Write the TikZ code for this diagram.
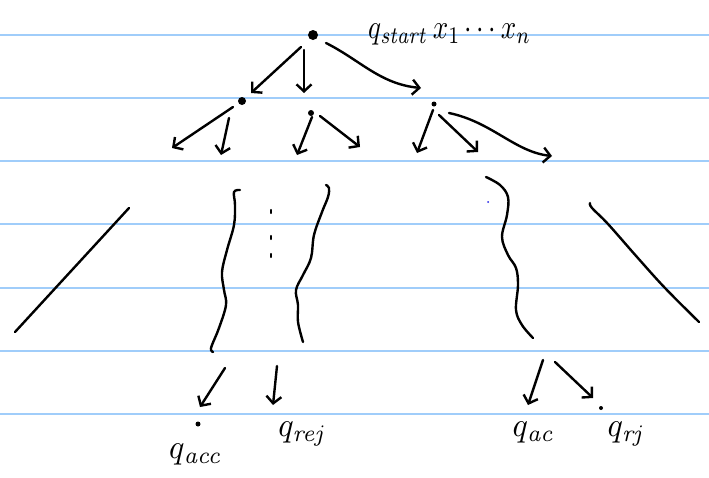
\documentclass[tikz,border=0pt]{standalone}
\usepackage{graphicx}
\usetikzlibrary{arrows.meta}
\definecolor{rulecol}{RGB}{160,205,250}
\definecolor{dotblue}{RGB}{30,30,230}
\newcommand{\bigtxt}[1]{\scalebox{2.7}[3.4]{$#1$}}
\newcommand{\bottxt}[1]{\scalebox{3.2}[3.4]{$#1$}}
\begin{document}
\begin{tikzpicture}[x=1pt,y=-1pt,
  ink/.style={line width=2.4pt, line cap=round, line join=round},
  arr/.style={ink, -{Straight Barb[length=7pt,width=15pt]}},
  ruling/.style={rulecol, line width=1.8pt},
  dot/.style={circle, fill=black, inner sep=0pt, minimum size=#1},
  lab/.style={inner sep=0pt}]
\useasboundingbox (0,0) rectangle (709,477);
% ruled paper lines
\foreach \yy in {35,98,161,224,288,351,414}
  \draw[ruling] (0,\yy) -- (709,\yy);

% nodes (dots)
\node[dot=10pt] (root) at (313,35) {};
\node[dot=8pt] (na) at (242,101) {};
\node[dot=6pt] (nb) at (311,113) {};
\node[dot=5pt] (nc) at (434,104) {};
\node[dot=5pt] (qaccdot) at (198,424) {};
\node[dot=4pt] (qrejdot) at (601,408) {};
\node[circle, fill=dotblue, inner sep=0pt, minimum size=2pt] (bluedot) at (488,202) {};

% labels
\node[lab, anchor=base west] (start) at (368,38) {\bigtxt{q_{\mathit{start}}\,x_1\cdots x_n}};
\node[lab, anchor=base] (qacc) at (196,458) {\bottxt{q_{\mathit{acc}}}};
\node[lab, anchor=base] (qrej) at (303,436) {\bottxt{q_{\mathit{rej}}}};
\node[lab, anchor=base] (qac) at (534,436) {\bottxt{q_{\mathit{ac}}}};
\node[lab, anchor=base] (qrs) at (627,436) {\bottxt{q_{\mathit{rj}}}};

% arrow end points
\coordinate (r1s) at (301,47);  \coordinate (r1e) at (251,93);
\coordinate (r2s) at (304,50);  \coordinate (r2e) at (304,93);
\coordinate (r3s) at (326,43);  \coordinate (r3e) at (421,88);
\coordinate (a1s) at (233,107); \coordinate (a1e) at (172,148);
\coordinate (a2s) at (229,118); \coordinate (a2e) at (221,155);
\coordinate (b1s) at (312,117); \coordinate (b1e) at (297,155);
\coordinate (b2s) at (320,116); \coordinate (b2e) at (360,147);
\coordinate (c1s) at (433,110); \coordinate (c1e) at (417,153);
\coordinate (c2s) at (439,115); \coordinate (c2e) at (478,152);
\coordinate (c3s) at (449,113); \coordinate (c3e) at (552,156);
\coordinate (d1s) at (225,368); \coordinate (d1e) at (200,407);
\coordinate (d2s) at (277,366); \coordinate (d2e) at (273,405);
\coordinate (e1s) at (543,360); \coordinate (e1e) at (528,405);
\coordinate (e2s) at (555,362); \coordinate (e2e) at (593,398);

% arrows
\draw[arr] (r1s) -- (r1e);
\draw[arr] (r2s) -- (r2e);
\draw[arr] (r3s) .. controls (360,60) and (380,84) .. (r3e);
\draw[arr] (a1s) -- (a1e);
\draw[arr] (a2s) -- (a2e);
\draw[arr] (b1s) -- (b1e);
\draw[arr] (b2s) -- (b2e);
\draw[arr] (c1s) -- (c1e);
\draw[arr] (c2s) -- (c2e);
\draw[arr] (c3s) .. controls (492,122) and (515,152) .. (c3e);
\draw[arr] (d1s) -- (d1e);
\draw[arr] (d2s) -- (d2e);
\draw[arr] (e1s) -- (e1e);
\draw[arr] (e2s) -- (e2e);

% tree outline strokes
\draw[ink] (129,208) -- (15,332);
\draw[ink] plot[smooth, tension=0.6] coordinates {(240,190) (234,192) (235,205) (234,225) (227,250) (222,272) (224,290) (226,305) (219,328) (212,345) (211,350) (213,352)};
\draw[ink] plot[smooth, tension=0.6] coordinates {(326,185) (329,188) (328,197) (322,212) (314,235) (311,258) (303,275) (296,290) (298,305) (298,322) (303,342)};
\draw[ink] plot[smooth, tension=0.6] coordinates {(486,177) (500,185) (508,197) (507,215) (502,237) (508,255) (516,268) (518,285) (516,310) (522,325) (533,338)};
\draw[ink] plot[smooth, tension=0.6] coordinates {(590,203) (592,208) (608,224) (637,257) (665,288) (699,322)};
% vertical dots
\draw[ink] (271,210) -- (271,213);
\draw[ink] (271,236) -- (271,239);
\draw[ink] (271,254) -- (271,257);
\end{tikzpicture}
\end{document}
